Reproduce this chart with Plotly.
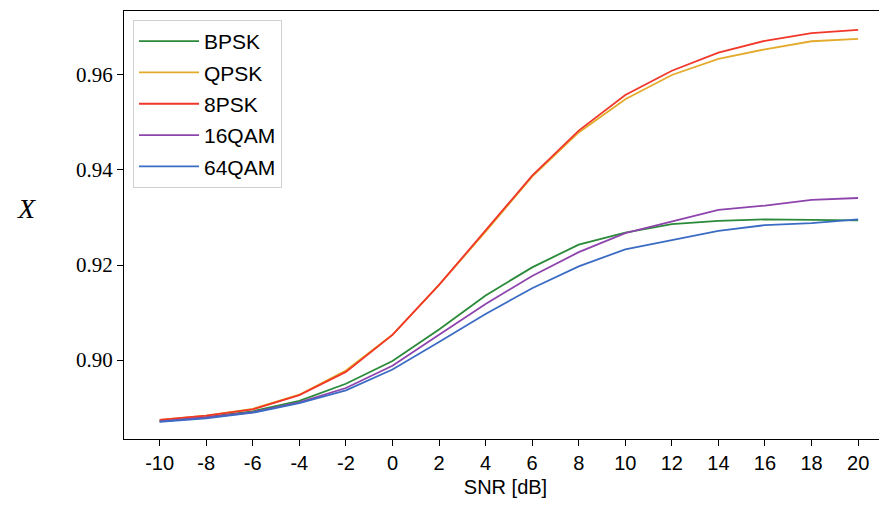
import plotly.graph_objects as go

snr = [-10, -8, -6, -4, -2, 0, 2, 4, 6, 8, 10, 12, 14, 16, 18, 20]
bpsk = [0.8871, 0.8880, 0.8892, 0.8914, 0.8950, 0.8998, 0.9064, 0.9136, 0.9195, 0.9243, 0.9268, 0.9286, 0.9293, 0.9296, 0.9295, 0.9294]
qpsk = [0.8874, 0.8883, 0.8897, 0.8927, 0.8978, 0.9053, 0.9158, 0.9270, 0.9386, 0.9479, 0.9549, 0.9600, 0.9634, 0.9654, 0.9671, 0.9676]
psk8 = [0.8874, 0.8883, 0.8896, 0.8926, 0.8975, 0.9053, 0.9158, 0.9272, 0.9388, 0.9483, 0.9558, 0.9609, 0.9647, 0.9672, 0.9688, 0.9695]
qam16 = [0.8871, 0.8879, 0.8890, 0.8911, 0.8941, 0.8988, 0.9053, 0.9118, 0.9177, 0.9227, 0.9267, 0.9292, 0.9316, 0.9325, 0.9337, 0.9341]
qam64 = [0.8870, 0.8877, 0.8889, 0.8909, 0.8936, 0.8980, 0.9038, 0.9097, 0.9151, 0.9197, 0.9233, 0.9252, 0.9272, 0.9284, 0.9288, 0.9296]

names = ["BPSK", "QPSK", "8PSK", "16QAM", "64QAM"]
series = [bpsk, qpsk, psk8, qam16, qam64]
colors = ["#2a8a3a", "#e3aa2b", "#f0372a", "#8e44ad", "#3b6cc4"]

y_tickvals = [0.90, 0.92, 0.94, 0.96]
y_ticktext = ["0.90", "0.92", "0.94", "0.96"]

fig = go.Figure()
for n, s, c in zip(names, series, colors):
    fig.add_trace(go.Scatter(x=snr, y=s, name=n, mode="lines", legendgroup=n,
                             line=dict(color=c, width=1.8)))

# page body has an 8px default margin; compensate so the plot lands where intended
OFF = 8
W, H = 887 - OFF, 506 - OFF
L, R, T = 124 - OFF, 0, 11 - OFF
ph = 439 - 11
B = H - T - ph
pw = W - L - R

def px_x(p):  # window pixel -> paper x
    return (p - OFF - L) / pw

def px_y(p):  # window pixel -> paper y
    return 1 - (p - OFF - T) / ph

fig.update_layout(
    width=W, height=H,
    margin=dict(l=L, r=R, t=T, b=B, autoexpand=False),
    paper_bgcolor="white", plot_bgcolor="white",
    showlegend=True,
    legend=dict(x=px_x(133), y=px_y(20), xanchor="left", yanchor="top",
                bgcolor="white", bordercolor="#d0d0d0", borderwidth=1,
                font=dict(family="Liberation Sans, Arial", size=21, color="black"),
                tracegroupgap=1, itemwidth=60),
    xaxis=dict(range=[-11.53, 21.24], tickvals=snr, ticktext=[str(v) for v in snr],
               automargin=False,
               showgrid=False, zeroline=False, showline=True, linecolor="black",
               linewidth=1.3, mirror=True, ticks="outside", ticklen=6, tickcolor="black",
               tickfont=dict(family="Liberation Sans, Arial", size=20, color="black"),
               title=dict(text="SNR [dB]", font=dict(family="Liberation Sans, Arial", size=20, color="black"), standoff=6)),
    yaxis=dict(range=[0.88337, 0.97347], tickvals=y_tickvals, ticktext=y_ticktext,
               automargin=False,
               showgrid=False, zeroline=False, showline=True, linecolor="black",
               linewidth=1.3, mirror=False, ticks="outside", ticklen=6, tickcolor="black",
               tickfont=dict(family="Liberation Serif, DejaVu Serif", size=21, color="black")),
    annotations=[dict(text="<i>X</i>", x=px_x(26), y=px_y(208),
                      xref="paper", yref="paper", xanchor="center", yanchor="middle",
                      showarrow=False, font=dict(family="Liberation Serif", size=28, color="black"))],
)

fig.write_html("out.html")
